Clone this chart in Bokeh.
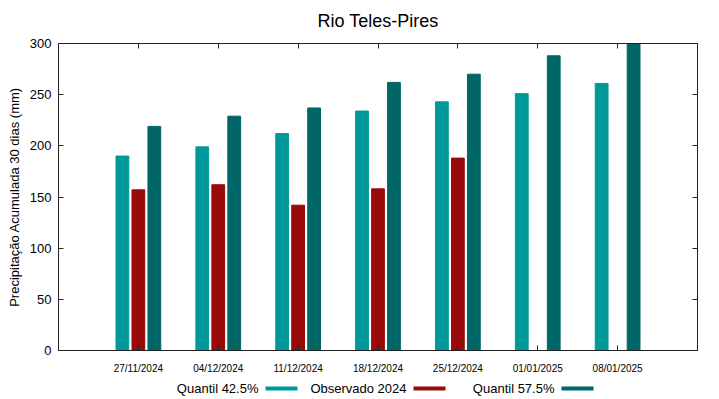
from bokeh.plotting import figure
from bokeh.layouts import column
from bokeh.models import (ColumnDataSource, LinearAxis, FixedTicker, Range1d)
from bokeh.core.properties import value
from bokeh.transform import dodge
from bokeh.embed import file_html
from bokeh.resources import INLINE

dates = ["27/11/2024", "04/12/2024", "11/12/2024", "18/12/2024",
         "25/12/2024", "01/01/2025", "08/01/2025"]
quantil_425 = [190, 199, 212, 234, 243, 251, 261]
observado_2024 = [157, 162, 142, 158, 188, None, None]
quantil_575 = [219, 229, 237, 262, 270, 288, 300]
y_ticks = [0, 50, 100, 150, 200, 250, 300]
series_names = ["Quantil 42.5%", "Observado 2024", "Quantil 57.5%"]
title_text = "Rio Teles-Pires"

C_Q1 = "#009999"
C_OBS = "#990b0b"
C_Q2 = "#006666"
colors = [C_Q1, C_OBS, C_Q2]
FONT = "Liberation Sans"

idx = list(range(len(dates)))
src = ColumnDataSource(dict(
    x=idx, q1=quantil_425, q2=quantil_575,
    obs=[float("nan") if v is None else v for v in observado_2024]))

# page layout (pixels)
W, H = 719, 399
FL, FR = 58, 697                 # frame left / right
FT, FB = 43, 350                 # frame top / bottom
TOP_H = 30                       # title strip
LEG_H = 23                       # legend strip
MAIN_H = H - TOP_H - LEG_H

p = figure(width=W, height=MAIN_H, output_backend="svg", toolbar_location=None,
           x_range=Range1d(-1, 7), y_range=Range1d(0, 300),
           min_border_left=FL, min_border_right=W - FR,
           min_border_top=FT - TOP_H, min_border_bottom=TOP_H + MAIN_H - FB,
           x_axis_type=None, y_axis_type=None)
p.background_fill_color = "white"
p.border_fill_color = "white"
p.outline_line_color = "#222222"
p.outline_line_width = 1

bw = 0.16
p.vbar(x=dodge("x", -0.2, range=p.x_range), top="q1", width=bw, bottom=0,
       source=src, fill_color=C_Q1, line_color=C_Q1)
p.vbar(x=dodge("x", 0.0, range=p.x_range), top="obs", width=bw, bottom=0,
       source=src, fill_color=C_OBS, line_color=C_OBS)
p.vbar(x=dodge("x", 0.2, range=p.x_range), top="q2", width=bw, bottom=0,
       source=src, fill_color=C_Q2, line_color=C_Q2)

def style(ax, labels=True):
    ax.major_tick_in = 5
    ax.major_tick_out = 0
    ax.minor_tick_line_color = None
    ax.axis_line_color = "#222222"
    ax.major_tick_line_color = "#222222"
    ax.major_label_text_font = FONT
    ax.major_label_text_color = "black"
    if not labels:
        ax.major_label_text_color = None
        ax.major_label_text_font_size = "1px"
        ax.major_label_standoff = 0

xb = LinearAxis(ticker=FixedTicker(ticks=idx),
                major_label_overrides={i: d for i, d in enumerate(dates)})
style(xb)
xb.major_label_text_font_size = "10px"
xb.major_label_standoff = 12
p.add_layout(xb, "below")

xt = LinearAxis(ticker=FixedTicker(ticks=idx))
style(xt, labels=False)
p.add_layout(xt, "above")

yl = LinearAxis(ticker=FixedTicker(ticks=y_ticks),
                axis_label="Precipitação Acumulada 30 dias (mm)")
style(yl)
yl.major_label_text_font_size = "13px"
yl.major_label_standoff = 7
yl.axis_label_text_font = FONT
yl.axis_label_text_font_size = "13px"
yl.axis_label_text_font_style = "normal"
yl.axis_label_text_color = "black"
yl.axis_label_standoff = 5
p.add_layout(yl, "left")

yr = LinearAxis(ticker=FixedTicker(ticks=y_ticks))
style(yr, labels=False)
p.add_layout(yr, "right")

p.xgrid.visible = False
p.ygrid.ticker = FixedTicker(ticks=y_ticks)
p.ygrid.grid_line_color = "#8a8a8a"
p.ygrid.grid_line_dash = "1 2"

def strip(h):
    f = figure(width=W, height=h, output_backend="svg", toolbar_location=None,
               x_range=Range1d(FL, FR), y_range=Range1d(h, 0),
               min_border_left=FL, min_border_right=W - FR,
               min_border_top=0, min_border_bottom=0,
               x_axis_type=None, y_axis_type=None)
    f.outline_line_color = None
    f.xgrid.visible = False
    f.ygrid.visible = False
    return f

# title strip (pixel layout)
tt = strip(TOP_H)
tt.text(x=[(FL + FR) / 2], y=[20], text=[title_text], text_align="center",
        text_baseline="alphabetic", text_font=value(FONT),
        text_font_size="18px", text_color="black")

# legend strip (text then swatch, as in the original; pixel layout)
lg = strip(LEG_H)
ly = 388 - TOP_H - MAIN_H
tx = [258 + 148 * k for k in range(3)]
lg.text(x=tx, y=[ly] * 3, text=series_names, text_align="right",
        text_baseline="middle", text_font=value(FONT), text_font_size="13px",
        text_color="black")
lg.quad(left=[t + 7 for t in tx], right=[t + 39 for t in tx],
        top=[ly - 2] * 3, bottom=[ly + 2] * 3, fill_color=colors,
        line_color=None)

layout = column(tt, p, lg, spacing=0)
open("out.html", "w").write(file_html(layout, INLINE))
